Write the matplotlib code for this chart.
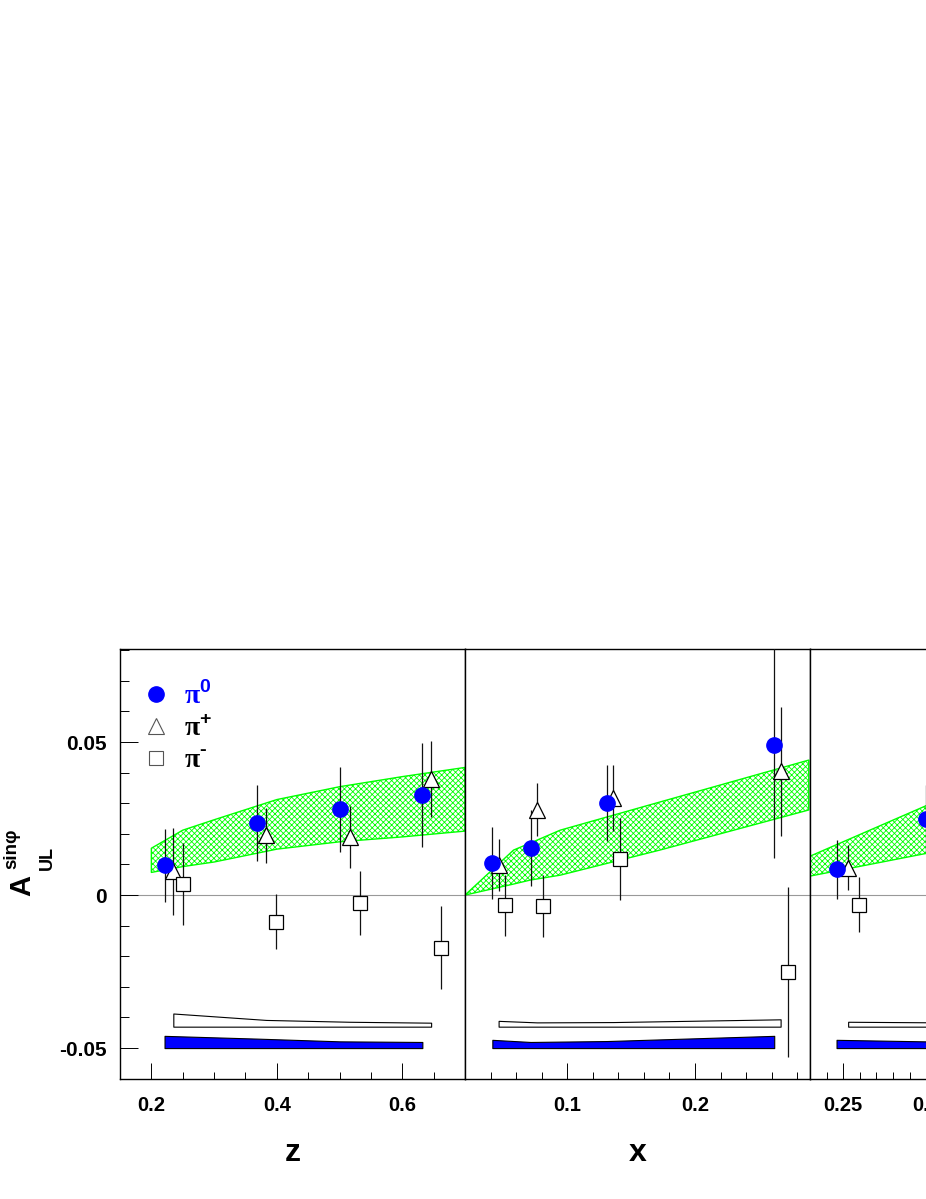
import matplotlib
matplotlib.use('Agg')
import matplotlib.pyplot as plt
from matplotlib.lines import Line2D
from matplotlib.ticker import FixedLocator, MultipleLocator
import numpy as np

plt.rcParams['font.family'] = ['Liberation Sans', 'DejaVu Sans']
plt.rcParams['font.weight'] = 'bold'
plt.rcParams['mathtext.fontset'] = 'custom'
plt.rcParams['mathtext.rm'] = 'Liberation Serif:bold'
plt.rcParams['mathtext.bf'] = 'Liberation Sans:bold'
plt.rcParams['hatch.linewidth'] = 0.6

# ---- panel z ----
pi0_z = [0.221, 0.368, 0.501, 0.632]
pi0_z_val = [0.0097, 0.0235, 0.0280, 0.0327]
pi0_z_err = [0.0119, 0.0125, 0.0139, 0.0169]
pip_z = [0.235, 0.383, 0.516, 0.646]
pip_z_val = [0.0077, 0.0195, 0.0190, 0.0379]
pip_z_err = [0.0142, 0.0089, 0.0100, 0.0125]
pim_z = [0.251, 0.398, 0.532, 0.662]
pim_z_val = [0.0036, -0.0087, -0.0026, -0.0172]
pim_z_err = [0.0134, 0.0090, 0.0105, 0.0136]
band_z = [0.20, 0.25, 0.30, 0.40, 0.50, 0.60, 0.70]
band_z_lo = [0.0074, 0.0093, 0.0108, 0.0150, 0.0174, 0.0190, 0.0209]
band_z_hi = [0.0153, 0.0212, 0.0246, 0.0312, 0.0354, 0.0387, 0.0417]
pip_sys_z = [0.0043, 0.0022, 0.0016, 0.0013]
pi0_sys_z = [0.0040, 0.0031, 0.0022, 0.0020]

# ---- panel x ----
pi0_x = [0.0414, 0.0713, 0.131, 0.262]
pi0_x_val = [0.0106, 0.0153, 0.0300, 0.0491]
pi0_x_err = [0.0118, 0.0124, 0.0124, 0.0369]
pip_x = [0.0463, 0.0763, 0.136, 0.267]
pip_x_val = [0.0099, 0.0279, 0.0317, 0.0404]
pip_x_err = [0.0085, 0.0086, 0.0107, 0.0210]
pim_x = [0.0513, 0.0812, 0.1414, 0.2725]
pim_x_val = [-0.0034, -0.0036, 0.0118, -0.0252]
pim_x_err = [0.0100, 0.0101, 0.0135, 0.0278]
band_x = [0.02, 0.058, 0.0711, 0.0945, 0.1725, 0.289]
band_x_lo = [0.0, 0.0036, 0.0049, 0.0065, 0.0147, 0.0278]
band_x_hi = [0.0, 0.0147, 0.0170, 0.0212, 0.0304, 0.0441]
pip_sys_x = [0.0019, 0.0014, 0.0015, 0.0024]
pi0_sys_x = [0.0027, 0.0020, 0.0023, 0.0040]

# ---- third panel (cut off at the right) ----
pi0_q = [0.246, 0.300]
pi0_q_val = [0.0084, 0.0250]
pi0_q_err = [0.0096, 0.0110]
pip_q = [0.253]
pip_q_val = [0.0090]
pip_q_err = [0.0074]
pim_q = [0.2597]
pim_q_val = [-0.0031]
pim_q_err = [0.0089]
band_q = [0.23, 0.30, 0.31]
band_q_lo = [0.0062, 0.0136, 0.0147]
band_q_hi = [0.0127, 0.0292, 0.0316]
pip_sys_q_x = [0.253, 0.31]
pip_sys_q = [0.0016, 0.0014]
pi0_sys_q_x = [0.246, 0.31]
pi0_sys_q = [0.0027, 0.0021]

pip_base = -0.043
pi0_base = -0.050

W, H = 926, 1199
fig = plt.figure(figsize=(W / 100, H / 100), dpi=100)


def panel(x0):
    ax = fig.add_axes([x0 / W, (H - 1079) / H, 345 / W, 430 / H])
    ax.set_ylim(-0.0601, 0.0804)
    for s in ax.spines.values():
        s.set_linewidth(1.0)
    ax.axhline(0, color='#999999', lw=0.8, zorder=1)
    ax.tick_params(axis='x', which='major', direction='in', length=11.5,
                   width=0.7, labelsize=14.5, pad=12)
    ax.tick_params(axis='x', which='minor', direction='in', length=5, width=0.7)
    ax.tick_params(axis='y', which='both', left=False, labelleft=False)
    return ax


def draw(ax, band, lo, hi, sys_pip_x, sys_pip, sys_pi0_x, sys_pi0,
         p0, v0, e0, pp, vp, ep, pm, vm, em):
    ax.fill_between(band, lo, hi, facecolor='none', edgecolor='#00ff00',
                    hatch='xxxxxx', linewidth=1.0, zorder=2)
    ax.fill_between(sys_pip_x, pip_base, pip_base + np.array(sys_pip),
                    facecolor='white', edgecolor='black', linewidth=0.8, zorder=2)
    ax.fill_between(sys_pi0_x, pi0_base, pi0_base + np.array(sys_pi0),
                    facecolor='#0000ff', edgecolor='black', linewidth=0.8, zorder=2)
    for xx, yy, ee in [(p0, v0, e0), (pp, vp, ep), (pm, vm, em)]:
        ax.errorbar(xx, yy, yerr=ee, fmt='none', ecolor='#111111',
                    elinewidth=0.9, capsize=0, zorder=3)
    ax.plot(pp, vp, ls='none', marker='^', ms=12, mfc='white', mec='black',
            mew=0.9, zorder=4)
    ax.plot(pm, vm, ls='none', marker='s', ms=10.5, mfc='white', mec='black',
            mew=0.9, zorder=4)
    ax.plot(p0, v0, ls='none', marker='o', ms=11, mfc='#0000ff', mec='#0000ff',
            zorder=5)


ax1 = panel(120)
ax1.set_xlim(0.15, 0.70)
draw(ax1, band_z, band_z_lo, band_z_hi, pip_z, pip_sys_z, pi0_z, pi0_sys_z,
     pi0_z, pi0_z_val, pi0_z_err, pip_z, pip_z_val, pip_z_err,
     pim_z, pim_z_val, pim_z_err)
ax1.xaxis.set_major_locator(FixedLocator([0.2, 0.4, 0.6]))
ax1.set_xticklabels(['0.2', '0.4', '0.6'])
ax1.xaxis.set_minor_locator(MultipleLocator(0.05))
ax1.set_yticks([-0.05, 0, 0.05])
ax1.set_yticklabels(['-0.05', '0', '0.05'])
ax1.yaxis.set_minor_locator(MultipleLocator(0.01))
ax1.tick_params(axis='y', which='major', left=True, labelleft=True,
                direction='in', length=13, width=0.7, labelsize=15, pad=9.5)
ax1.tick_params(axis='y', which='minor', left=True, direction='in',
                length=6.5, width=0.7)
ax1.set_xlabel('z', fontsize=23, fontweight='bold', labelpad=17)

ax2 = panel(465)
ax2.set_xlim(0.02, 0.29)
draw(ax2, band_x, band_x_lo, band_x_hi, pip_x, pip_sys_x, pi0_x, pi0_sys_x,
     pi0_x, pi0_x_val, pi0_x_err, pip_x, pip_x_val, pip_x_err,
     pim_x, pim_x_val, pim_x_err)
ax2.xaxis.set_major_locator(FixedLocator([0.1, 0.2]))
ax2.set_xticklabels(['0.1', '0.2'])
ax2.xaxis.set_minor_locator(MultipleLocator(0.02))
ax2.set_xlabel('x', fontsize=23, fontweight='bold', labelpad=17)

ax3 = panel(810)
ax3.set_xlim(0.23, 0.438)
draw(ax3, band_q, band_q_lo, band_q_hi, pip_sys_q_x, pip_sys_q,
     pi0_sys_q_x, pi0_sys_q,
     pi0_q, pi0_q_val, pi0_q_err, pip_q, pip_q_val, pip_q_err,
     pim_q, pim_q_val, pim_q_err)
ax3.xaxis.set_major_locator(FixedLocator([0.25, 0.3, 0.35, 0.4]))
ax3.set_xticklabels(['0.25', '0.3', '0.35', '0.4'])
ax3.xaxis.set_minor_locator(MultipleLocator(0.01))

# legend
handles = [
    Line2D([], [], ls='none', marker='o', ms=11, mfc='#0000ff', mec='#0000ff'),
    Line2D([], [], ls='none', marker='^', ms=12, mfc='white', mec='#555555', mew=0.8),
    Line2D([], [], ls='none', marker='s', ms=10, mfc='white', mec='#555555', mew=0.8),
]
labels = [r'$\mathrm{\pi}^{\mathbf{0}}$', r'$\mathrm{\pi}^{\mathbf{+}}$',
          r'$\mathrm{\pi}^{\text{-}}$']
leg = ax1.legend(handles, labels, loc='upper left', bbox_to_anchor=(0.0, 0.97),
                 frameon=False, fontsize=20, handlelength=1.2,
                 handletextpad=0.4, labelspacing=0.2, borderaxespad=0.3)
leg.get_texts()[0].set_color('#0000ff')

# y label A^{sin phi}_{UL}
fig.text(22.5 / W, 1 - 886 / H, 'A', rotation=90, fontsize=21,
         fontweight='bold', ha='center', va='center')
fig.text(12 / W, 1 - 849 / H, 'sin\u03c6', rotation=90, fontsize=13.5,
         fontweight='bold', ha='center', va='center')
fig.text(47.5 / W, 1 - 858.5 / H, 'UL', rotation=90, fontsize=13,
         fontweight='bold', ha='center', va='center')

fig.savefig('out.png', dpi=100)
